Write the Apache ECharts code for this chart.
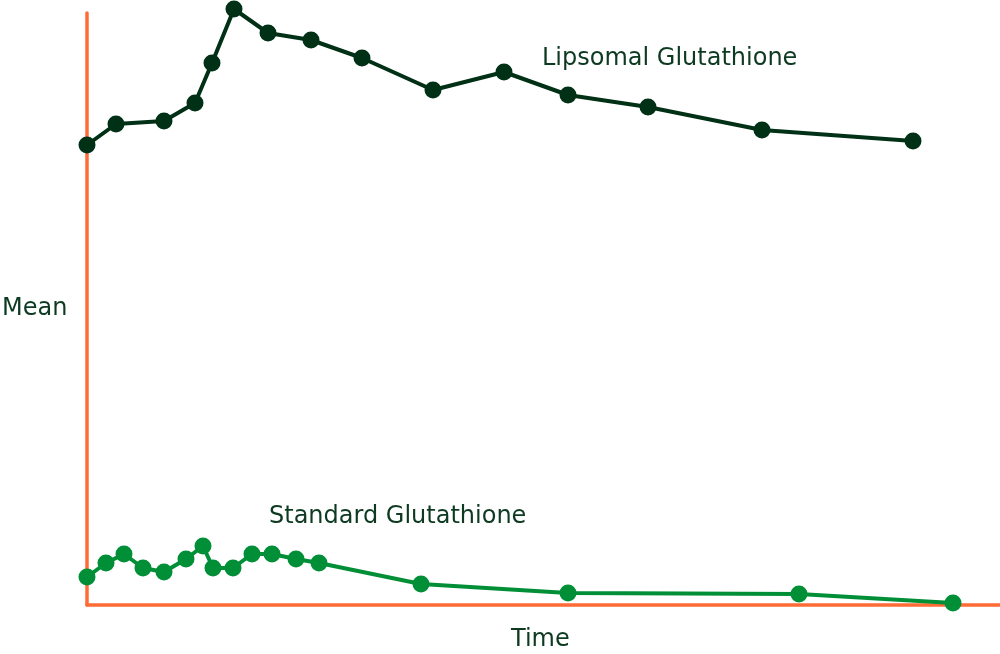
<!DOCTYPE html>
<html><head><meta charset="utf-8">
<script src="https://cdn.jsdelivr.net/npm/echarts@6/dist/echarts.min.js"></script>
<style>html,body{margin:0;padding:0;background:#fff}#c{width:1000px;height:654px}</style>
</head><body><div id="c"></div>
<script>
// Arbitrary units
const lipTime = [0, 29, 77, 108, 125, 147, 181, 224, 275, 346, 417, 481, 561, 675, 826];
const lipMean = [460, 481, 484, 502, 542, 596, 572, 565, 547, 515, 533, 510, 498, 475, 464];
const stdTime = [0, 19, 37, 56, 77, 99, 116, 126, 146, 165, 185, 209, 232, 334, 481, 712, 866];
const stdMean = [28, 42, 51, 37, 33, 46, 59, 37, 37, 51, 51, 46, 42, 21, 12, 11, 2];
const seriesNames = ['Lipsomal Glutathione', 'Standard Glutathione'];
const axisNames = ['Time', 'Mean'];

const chart = echarts.init(document.getElementById('c'));
const txt = {fill: '#0d3a20', fontSize: 24, fontFamily: 'DejaVu Sans'};
chart.setOption({
  animation: false,
  grid: {left: 87, right: 0, top: 13, bottom: 49},
  xAxis: {type: 'value', min: 0, max: 913,
    axisLine: {lineStyle: {color: '#ff6b35', width: 3.5}},
    axisTick: {show: false}, axisLabel: {show: false}, splitLine: {show: false}},
  yAxis: {type: 'value', min: 0, max: 592,
    axisLine: {show: true, lineStyle: {color: '#ff6b35', width: 3.5}},
    axisTick: {show: false}, axisLabel: {show: false}, splitLine: {show: false}},
  graphic: [
    {type: 'text', left: 542, top: 47, style: Object.assign({text: seriesNames[0]}, txt)},
    {type: 'text', left: 269, top: 505, style: Object.assign({text: seriesNames[1]}, txt)},
    {type: 'text', left: 2, top: 297, style: Object.assign({text: axisNames[1]}, txt)},
    {type: 'text', left: 511, top: 628, style: Object.assign({text: axisNames[0]}, txt)}
  ],
  series: [
    {name: seriesNames[0], type: 'line', clip: false, symbol: 'circle', symbolSize: 17,
     data: lipTime.map((t, i) => [t, lipMean[i]]),
     lineStyle: {color: '#003015', width: 4}, itemStyle: {color: '#003015'}},
    {name: seriesNames[1], type: 'line', clip: false, symbol: 'circle', symbolSize: 17,
     data: stdTime.map((t, i) => [t, stdMean[i]]),
     lineStyle: {color: '#008f36', width: 4}, itemStyle: {color: '#008f36'}}
  ]
});
</script></body></html>
